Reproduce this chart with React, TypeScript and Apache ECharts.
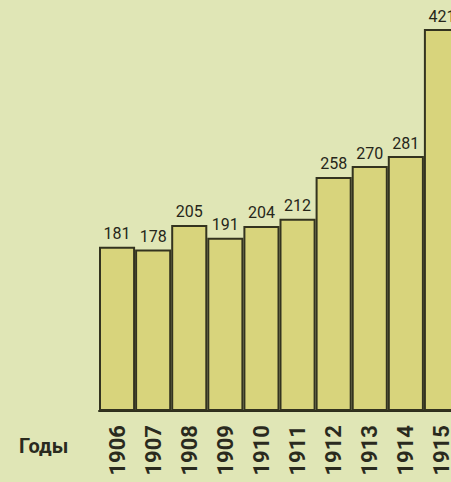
import React, { useEffect, useRef } from "react";
import * as echarts from "echarts";

const years = ["1906", "1907", "1908", "1909", "1910", "1911", "1912", "1913", "1914", "1915"];
const values = [181, 178, 205, 191, 204, 212, 258, 270, 281, 421];
const axisTitle = "Годы";

export default function App() {
  const ref = useRef<HTMLDivElement>(null);
  useEffect(() => {
    if (!ref.current) return;
    const chart = echarts.init(ref.current, null, { renderer: "svg" });
    chart.setOption({
      animation: false,
      backgroundColor: "#e0e6b6",
      grid: { left: 99, top: 29, width: 361, height: 382, containLabel: false },
      xAxis: {
        type: "category",
        data: years,
        axisLine: { show: true, lineStyle: { color: "#2e2e1c", width: 2 } },
        axisTick: { show: false },
        axisLabel: {
          rotate: 90,
          margin: 14,
          fontFamily: "Roboto",
          fontWeight: "bold",
          fontSize: 22,
          color: "#2a2a1e",
        },
      },
      yAxis: {
        type: "value",
        min: 0,
        max: 421,
        show: false,
        splitLine: { show: false },
      },
      series: [
        {
          type: "bar",
          data: values,
          barCategoryGap: 0,
          barWidth: "100%",
          itemStyle: { color: "#d8d47c", borderColor: "#33331f", borderWidth: 2 },
          label: {
            show: true,
            position: "top",
            distance: 5,
            fontFamily: "Roboto",
            fontWeight: "normal",
            fontSize: 16,
            color: "#26261a",
          },
        },
      ],
      graphic: [
        {
          type: "text",
          left: 19,
          top: 436,
          style: {
            text: axisTitle,
            font: "bold 20px Roboto",
            fill: "#2a2a1e",
          },
        },
      ],
    });
    return () => chart.dispose();
  }, []);
  return (
    <div style={{ position: "fixed", left: 0, top: 0, width: 451, height: 482, overflow: "hidden" }}>
      <div ref={ref} style={{ width: 470, height: 482 }} />
    </div>
  );
}
